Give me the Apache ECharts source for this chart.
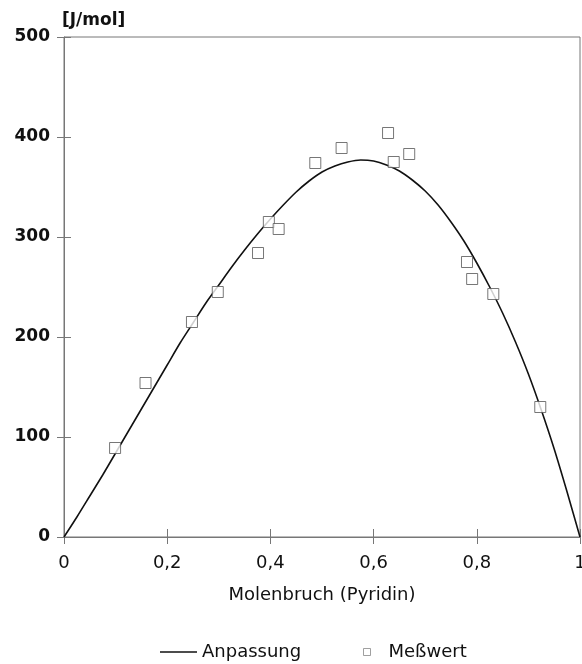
<!DOCTYPE html>
<html>
<head>
<meta charset="utf-8">
<script src="https://cdn.jsdelivr.net/npm/echarts@6/dist/echarts.min.js"></script>
<style>html,body{margin:0;padding:0;background:#fff;}#c{width:582px;height:664px;}</style>
</head>
<body>
<div id="c"></div>
<script>
// Fit curve (Anpassung)
const fitX = [0, 0.025, 0.05, 0.075, 0.1, 0.125, 0.15, 0.175, 0.2, 0.225, 0.25, 0.275, 0.3, 0.325, 0.35, 0.375, 0.4, 0.425, 0.45, 0.475, 0.5,
              0.525, 0.55, 0.575, 0.6, 0.625, 0.65, 0.675, 0.7, 0.725, 0.75, 0.775, 0.8, 0.825, 0.85, 0.875, 0.9, 0.925, 0.95, 0.975, 1];
const fitY = [0, 20, 41, 62, 84, 106, 128, 150, 172, 194, 214, 234, 252, 270, 287, 303, 318, 332, 345, 356, 365,
              371, 375, 377, 376, 372, 366, 357, 346, 332, 315, 296, 274, 250, 224, 195, 163, 127, 88, 45, 0];
// Measured values (Meßwert)
const measX = [0.099, 0.158, 0.248, 0.298, 0.376, 0.397, 0.416, 0.487, 0.538, 0.628, 0.639, 0.669, 0.781, 0.791, 0.832, 0.923];
const measY = [89, 154, 215, 245, 284, 315, 308, 374, 389, 404, 375, 383, 275, 258, 243, 130];
// Axis ticks
const xTicks = [0, 0.2, 0.4, 0.6, 0.8, 1];
const yTicks = [0, 100, 200, 300, 400, 500];
const xName = 'Molenbruch (Pyridin)';
const yName = '[J/mol]';
const seriesNames = ['Anpassung', 'Meßwert'];

const FONT = 'DejaVu Sans';
const TXT = '#111';
const AX = '#777';

const chart = echarts.init(document.getElementById('c'), null, {renderer: 'canvas'});
const fmtX = v => (xTicks.indexOf(+v.toFixed(1)) >= 0 ? String(+v.toFixed(1)).replace('.', ',') : '');

chart.setOption({
  animation: false,
  backgroundColor: '#fff',
  grid: {left: 64, top: 37, width: 516, height: 500, show: true, borderColor: AX, borderWidth: 1, backgroundColor: 'transparent', containLabel: false, outerBoundsMode: 'none'},
  xAxis: [{
    type: 'value', min: xTicks[0], max: xTicks[xTicks.length - 1], interval: 0.2,
    name: xName, nameLocation: 'middle', nameGap: 49,
    nameTextStyle: {fontFamily: FONT, fontSize: 18, color: TXT},
    axisLine: {show: true, lineStyle: {color: AX, width: 1}},
    axisTick: {show: true, inside: false, length: 7, lineStyle: {color: AX}},
    axisLabel: {formatter: fmtX, fontFamily: FONT, fontSize: 18, color: TXT, margin: 17, hideOverlap: false},
    splitLine: {show: false}
  }, {
    type: 'value', min: xTicks[0], max: xTicks[xTicks.length - 1], interval: 0.2, position: 'bottom', gridIndex: 0,
    axisLine: {show: false}, axisTick: {show: true, inside: true, length: 8, lineStyle: {color: AX}},
    axisLabel: {show: false}, splitLine: {show: false}
  }],
  yAxis: [{
    type: 'value', min: yTicks[0], max: yTicks[yTicks.length - 1], interval: 100,
    name: yName, nameLocation: 'end', nameGap: 8,
    nameTextStyle: {fontFamily: FONT, fontSize: 17, fontWeight: 'bold', color: TXT, align: 'left', verticalAlign: 'bottom', padding: [0, 0, 0, -2]},
    axisLine: {show: true, lineStyle: {color: AX, width: 1}},
    axisTick: {show: true, inside: false, length: 7, lineStyle: {color: AX}},
    axisLabel: {fontFamily: FONT, fontSize: 17, fontWeight: 'bold', color: TXT, margin: 14},
    splitLine: {show: false}
  }, {
    type: 'value', min: yTicks[0], max: yTicks[yTicks.length - 1], interval: 100, position: 'left', gridIndex: 0,
    axisLine: {show: false}, axisTick: {show: true, inside: true, length: 7, lineStyle: {color: AX}},
    axisLabel: {show: false}, splitLine: {show: false}
  }],
  legend: [{
    data: [seriesNames[0]], left: 155, top: 638, icon: 'rect', itemWidth: 37, itemHeight: 1.5,
    textStyle: {fontFamily: FONT, fontSize: 18, color: TXT}
  }, {
    data: [{name: seriesNames[1], icon: 'rect', itemStyle: {color: '#fff', borderColor: '#888', borderWidth: 1}}],
    left: 358, top: 638, itemWidth: 7, itemHeight: 7,
    textStyle: {fontFamily: FONT, fontSize: 18, color: TXT, padding: [0, 0, 0, 13]}
  }],
  series: [{
    name: seriesNames[0], type: 'line', xAxisIndex: 0, yAxisIndex: 0,
    data: fitX.map((x, i) => [x, fitY[i]]),
    smooth: 0.25, symbol: 'none', lineStyle: {color: '#111', width: 1.6}, itemStyle: {color: '#111'}, z: 3
  }, {
    name: seriesNames[1], type: 'scatter', xAxisIndex: 0, yAxisIndex: 0,
    data: measX.map((x, i) => [x, measY[i]]),
    symbol: 'rect', symbolSize: 11,
    itemStyle: {color: '#fff', borderColor: '#555', borderWidth: 1}, z: 4
  }]
});
</script>
</body>
</html>
